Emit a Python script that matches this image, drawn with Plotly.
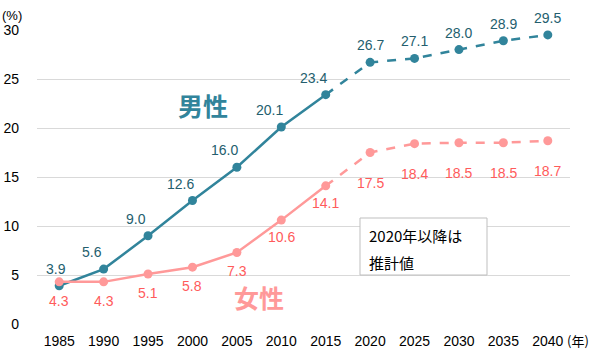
import plotly.graph_objects as go

years = ["1985", "1990", "1995", "2000", "2005", "2010", "2015",
         "2020", "2025", "2030", "2035", "2040"]
male = [3.9, 5.6, 9.0, 12.6, 16.0, 20.1, 23.4, 26.7, 27.1, 28.0, 28.9, 29.5]
female = [4.3, 4.3, 5.1, 5.8, 7.3, 10.6, 14.1, 17.5, 18.4, 18.5, 18.5, 18.7]
split = 6  # index of 2015: solid up to here, dashed afterwards

M_LINE = "#31849B"
M_TEXT = "#245E6E"
F_LINE = "#FF9999"
F_TEXT = "#FF5B5B"
FONT = "Liberation Sans, Arial, sans-serif"
CJK = "Noto Sans CJK JP, sans-serif"

fig = go.Figure()

def add_series(vals, color):
    fig.add_trace(go.Scatter(x=years[:split + 1], y=vals[:split + 1], mode="lines",
                             line=dict(color=color, width=2.5), hoverinfo="skip"))
    fig.add_trace(go.Scatter(x=years[split:], y=vals[split:], mode="lines",
                             line=dict(color=color, width=2.5, dash="dash"), hoverinfo="skip"))
    fig.add_trace(go.Scatter(x=years, y=vals, mode="markers",
                             marker=dict(color=color, size=9), hoverinfo="skip"))

add_series(male, M_LINE)
add_series(female, F_LINE)

def px_x(p):
    return (p - 37) / 533

def px_y(p):
    return (324 - p) / 294

annotations = []
for i, v in enumerate(male):
    xs = -3 if i == 0 else (-12 if i <= split else 0)
    annotations.append(dict(x=i, y=v, text=f"{v:.1f}", showarrow=False,
                            xanchor="center", yanchor="middle",
                            xshift=xs, yshift=17,
                            font=dict(family=FONT, size=14, color=M_TEXT)))
for i, v in enumerate(female):
    ys = -19 if i <= split - 2 else -17
    if i >= split + 1:
        ys = -30
    annotations.append(dict(x=i, y=v, text=f"{v:.1f}", showarrow=False,
                            xanchor="center", yanchor="middle",
                            yshift=ys,
                            font=dict(family=FONT, size=14, color=F_TEXT)))

annotations += [
    dict(xref="paper", yref="paper", x=px_x(203), y=px_y(105),
         xanchor="center", yanchor="middle",
         text="<b>男性</b>", showarrow=False,
         font=dict(family=CJK, size=25, color=M_LINE)),
    dict(xref="paper", yref="paper", x=px_x(259), y=px_y(297),
         xanchor="center", yanchor="middle",
         text="<b>女性</b>", showarrow=False,
         font=dict(family=CJK, size=25, color=F_LINE)),
    dict(xref="paper", yref="paper", x=px_x(367), y=px_y(235),
         xanchor="left", yanchor="middle",
         text="2020年以降は", showarrow=False,
         font=dict(family=CJK, size=15, color="#000000")),
    dict(xref="paper", yref="paper", x=px_x(367), y=px_y(262),
         xanchor="left", yanchor="middle",
         text="推計値", showarrow=False,
         font=dict(family=CJK, size=15, color="#000000")),
    dict(xref="paper", yref="paper", x=px_x(0), y=px_y(15),
         xanchor="left", yanchor="middle", text="(%)", showarrow=False,
         font=dict(family=FONT, size=13, color="#000000")),
    dict(xref="paper", yref="paper", x=px_x(591), y=px_y(340),
         xanchor="right", yanchor="middle", text="(年)", showarrow=False,
         font=dict(family=CJK, size=13, color="#000000")),
]

fig.add_shape(type="rect", xref="paper", yref="paper",
              x0=px_x(360), x1=px_x(487), y0=px_y(275), y1=px_y(218),
              fillcolor="white", line=dict(color="#BFBFBF", width=1), layer="above")

fig.update_layout(
    width=592, height=353,
    margin=dict(l=37, r=22, t=30, b=29),
    paper_bgcolor="white", plot_bgcolor="white",
    showlegend=False,
    annotations=annotations,
    font=dict(family=FONT, size=14, color="#000000"),
    xaxis=dict(type="category", showgrid=False, zeroline=False, showline=False,
               ticks="", ticklabelstandoff=7, automargin=False,
               tickfont=dict(family=FONT, size=14, color="#000000"),
               range=[-0.5, len(years) - 0.5]),
    yaxis=dict(range=[0, 30], dtick=5, showgrid=True, gridcolor="#D9D9D9",
               gridwidth=1, zeroline=False, showline=False, ticks="",
               ticklabelstandoff=17, automargin=False,
               tickfont=dict(family=FONT, size=14, color="#000000")),
)

fig.write_html("out.html")
